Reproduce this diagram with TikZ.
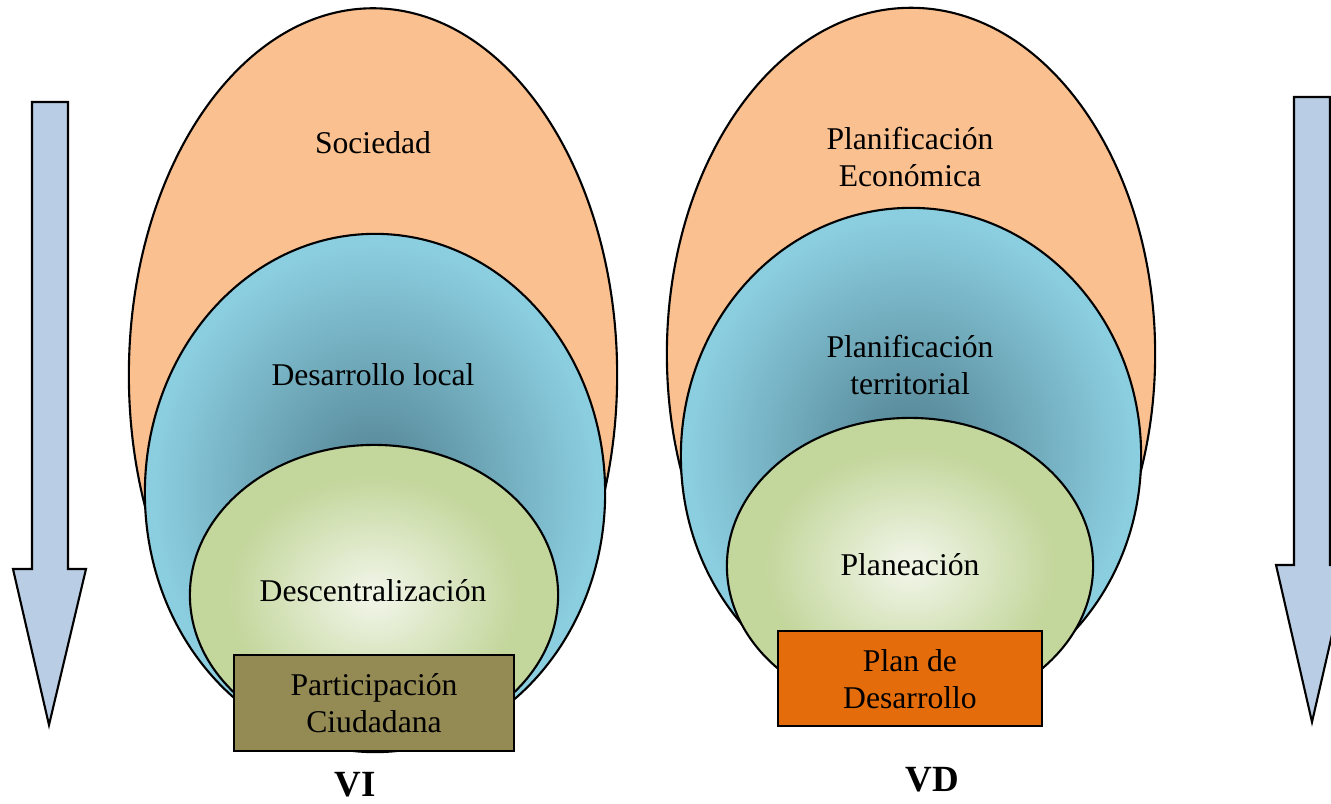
\documentclass[tikz,border=0pt]{standalone}
\usepackage{fontspec}
\setmainfont{Liberation Serif}
\usetikzlibrary{shapes.geometric}

\definecolor{peach}{HTML}{FAC090}
\definecolor{bdark}{HTML}{558696}
\definecolor{blight}{HTML}{8BCEE0}
\definecolor{gcenter}{HTML}{EEF3E3}
\definecolor{gedge}{HTML}{C3D69B}
\definecolor{olive}{HTML}{948A54}
\definecolor{burnt}{HTML}{E46C0A}
\definecolor{arrowblue}{HTML}{B9CDE5}

% the path's bounding box maps onto the central 50bp square, so its rim lies at 25bp
\pgfdeclareradialshading{bluering}{\pgfpoint{0bp}{0bp}}{%
  color(0bp)=(bdark); color(2bp)=(bdark); color(24bp)=(blight); color(25bp)=(blight); color(50bp)=(blight)}
\pgfdeclareradialshading{greenglow}{\pgfpoint{0bp}{0bp}}{%
  color(0bp)=(gcenter); color(2bp)=(gcenter); color(20bp)=(gedge); color(25bp)=(gedge); color(50bp)=(gedge)}

\tikzset{
  oval/.style={ellipse, draw=black, line width=0.6pt, inner sep=0pt},
  outer/.style={oval, fill=peach},
  middle/.style={oval, shading=bluering},
  inner/.style={oval, shading=greenglow},
  basebox/.style={rectangle, draw=black, line width=0.6pt, inner sep=0pt},
  lbl/.style={align=center, font=\fontsize{9}{10.5}\selectfont, inner sep=0pt},
  var/.style={font=\fontsize{10.5}{12}\selectfont\bfseries, inner sep=0pt},
  flow/.style={fill=arrowblue, draw=black, line width=0.6pt, line join=miter}
}

\begin{document}
\begin{tikzpicture}[x=0.01cm, y=-0.01cm]
  \useasboundingbox (0,0) rectangle (1331,804);
  \clip (0,0) rectangle (1331,804);

  % downward arrows at both sides
  \draw[flow] (32,102) -- (68,102) -- (68,569) -- (86,569) -- (49,725)
              -- (13,569) -- (32,569) -- cycle;
  \draw[flow] (1294,97) -- (1330,97) -- (1330,565) -- (1348,565) -- (1312,722)
              -- (1276,565) -- (1294,565) -- cycle;

  % left nest: Sociedad > Desarrollo local > Descentralizacion
  \node[outer, minimum width=4.88cm, minimum height=7.33cm] (soc) at (373,375) {};
  \node[middle, minimum width=4.60cm, minimum height=5.18cm] (dl) at (375,493) {};
  \node[inner, minimum width=3.68cm, minimum height=3.00cm] (desc) at (374,595) {};
  \node[basebox, fill=olive, minimum width=2.80cm, minimum height=0.96cm] (pc) at (374,703) {};

  % right nest: Planificacion Economica > territorial > Planeacion
  \node[outer, minimum width=4.88cm, minimum height=6.92cm] (pe) at (911,354) {};
  \node[middle, minimum width=4.60cm, minimum height=4.96cm] (pt) at (911,456) {};
  \node[inner, minimum width=3.66cm, minimum height=2.96cm] (pl) at (910,566) {};
  \node[basebox, fill=burnt, minimum width=2.64cm, minimum height=0.95cm] (pd) at (910,678.5) {};

  % labels
  \node[lbl] (tsoc) at (373,143) {Sociedad};
  \node[lbl] (tdl) at (373,375) {Desarrollo local};
  \node[lbl] (tdesc) at (373,591) {Descentralización};
  \node[lbl] (tpc) at (374,703) {Participación\\Ciudadana};

  \node[lbl] (tpe) at (910,157) {Planificación\\Económica};
  \node[lbl] (tpt) at (910,365) {Planificación\\territorial};
  \node[lbl] (tpl) at (910,565) {Planeación};
  \node[lbl] (tpd) at (910,679) {Plan de\\Desarrollo};

  \node[var] (vi) at (355,785) {VI};
  \node[var] (vd) at (932,780) {VD};
\end{tikzpicture}
\end{document}
